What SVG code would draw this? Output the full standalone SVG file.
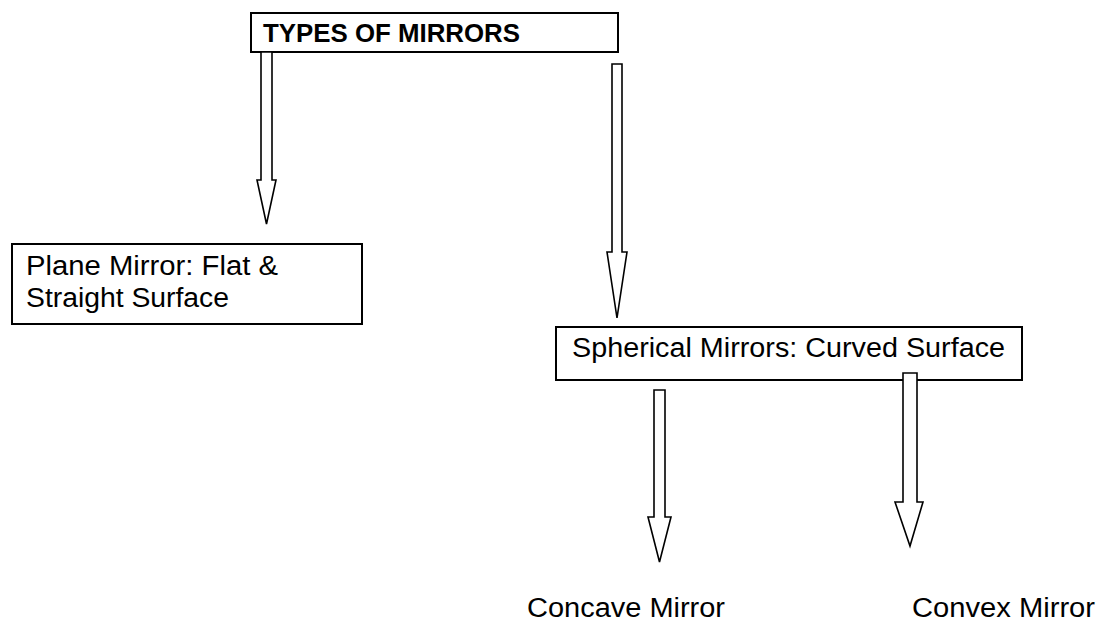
<svg xmlns="http://www.w3.org/2000/svg" width="1102" height="622" viewBox="0 0 1102 622">
  <style>
    .box { fill: #ffffff; stroke: #000000; stroke-width: 2; }
    .arrow { fill: #ffffff; stroke: #000000; stroke-width: 1.6; stroke-linejoin: miter; }
    .lbl { font-family: "Liberation Sans", Arial, sans-serif; font-size: 27px; fill: #000000; }
    .bold { font-weight: bold; font-size: 26px; }
  </style>
  <rect width="1102" height="622" fill="#ffffff"/>
  <g id="node-types">
    <rect class="box" x="251" y="13" width="367" height="39"/>
    <text class="lbl bold" x="263" y="42" textLength="257" lengthAdjust="spacingAndGlyphs">TYPES OF MIRRORS</text>
  </g>
  <g id="node-plane">
    <rect class="box" x="12" y="244" width="350" height="80"/>
    <text class="lbl" x="26" y="275" textLength="252" lengthAdjust="spacingAndGlyphs">Plane Mirror: Flat &amp;</text>
    <text class="lbl" x="26" y="307" textLength="203" lengthAdjust="spacingAndGlyphs">Straight Surface</text>
  </g>
  <g id="node-spherical">
    <rect class="box" x="556" y="327" width="466" height="53"/>
    <text class="lbl" x="572" y="357" textLength="433" lengthAdjust="spacingAndGlyphs">Spherical Mirrors: Curved Surface</text>
  </g>
  <g id="node-concave">
    <text class="lbl" x="527" y="617" textLength="198" lengthAdjust="spacingAndGlyphs">Concave Mirror</text>
  </g>
  <g id="node-convex">
    <text class="lbl" x="912" y="617" textLength="183" lengthAdjust="spacingAndGlyphs">Convex Mirror</text>
  </g>
  <g id="connectors">
    <polygon class="arrow" points="261,52 272,52 272,180 276,180 266.5,224 257,180 261,180"/>
    <polygon class="arrow" points="612,64 622,64 622,252 627,252 617,318 607,252 612,252"/>
    <polygon class="arrow" points="654,390 665,390 665,517 671,517 659.5,562 648,517 654,517"/>
    <polygon class="arrow" points="903,373 917,373 917,502 923,502 910,546 895,502 903,502"/>
  </g>
</svg>
